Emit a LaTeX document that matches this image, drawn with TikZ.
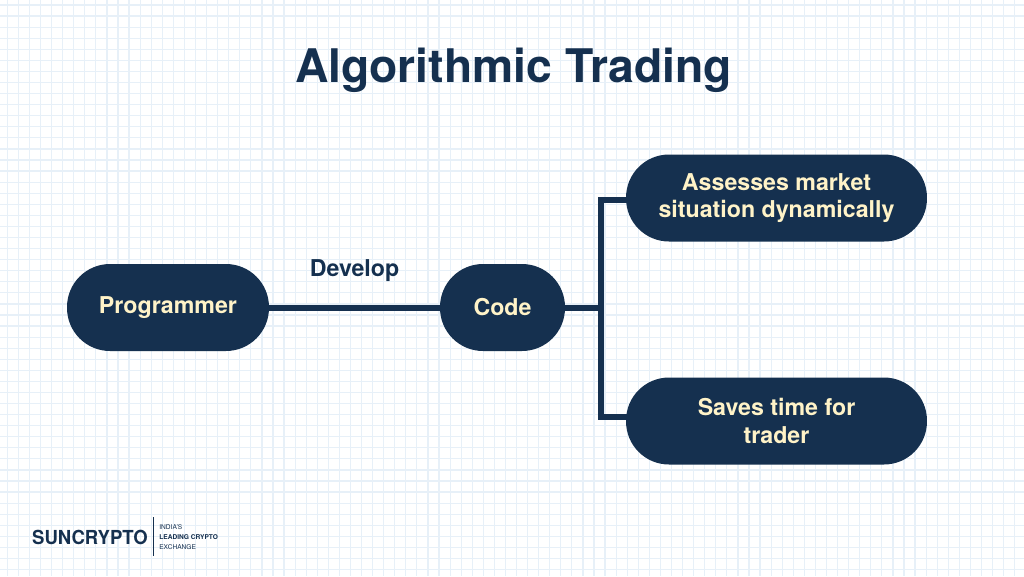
\documentclass[tikz,border=0pt]{standalone}
\usepackage{fontspec}
\setmainfont{TeX Gyre Heros}
\usepackage{xcolor}
\usetikzlibrary{positioning, calc}
\definecolor{tradenavy}{RGB}{21, 48, 79}
\definecolor{labelcream}{RGB}{255, 243, 200}
\definecolor{gridblue}{RGB}{231, 240, 248}
\tikzset{
    pill/.style={fill=tradenavy, rounded corners=0.86cm, minimum height=1.74cm, align=center, text=labelcream, font=\fontsize{13.2}{15.8}\selectfont\bfseries},
    link/.style={draw=tradenavy, line width=0.12cm},
    gridline/.style={draw=gridblue, line width=0.024cm}
}
\begin{document}
\begin{tikzpicture}[x=0.02cm, y=-0.02cm]
    \useasboundingbox (0,0) rectangle (1024,576);
    % Background grid
    \fill[white] (0,0) rectangle (1024,576);
    \foreach \gx in {0,...,92} {
        \draw[gridline] ({7.3+\gx*11.07},0) -- ({7.3+\gx*11.07},576);
    }
    \foreach \gy in {0,...,51} {
        \draw[gridline] (0,{5+\gy*11.07}) -- (1024,{5+\gy*11.07});
    }

    % Title
    \node[font=\fontsize{26.35}{32}\selectfont\bfseries, text=tradenavy] (title) at (513.5,70.5) {Algorithmic Trading};

    % Boxes
    \node[pill, minimum width=4.04cm] (programmer) at (168,307.5) {Programmer};
    \node[pill, minimum width=2.5cm] (code) at (502.5,307.5) {Code};
    \node[pill, minimum width=6.02cm] (assess) at (776.5,198) {Assesses market\\situation dynamically};
    \node[pill, minimum width=6.02cm] (saves) at (776.5,421) {Saves time for\\trader};
    \coordinate (branch) at (601,307.5);
    \coordinate (assessport) at (630,199.7);
    \coordinate (savesport) at (630,416.5);

    % Connectors
    \draw[link] (programmer) -- (code);
    \draw[link] (code) -- (branch);
    \draw[link] (assessport) -| (branch) |- (savesport);
    \node[font=\fontsize{13.2}{15}\selectfont\bfseries, text=tradenavy] (develop) at (354.5,271) {Develop};

    % Logo
    \node[font=\fontsize{11}{10}\selectfont\bfseries, text=tradenavy, xscale=0.96] (brand) at (90,537) {SUNCRYPTO};
    \coordinate (ruletop) at (153.5,517);
    \coordinate (rulebot) at (153.5,556);
    \draw[draw=tradenavy, line width=0.03cm] (ruletop) -- (rulebot);
    \node[font=\fontsize{3.75}{5.6}\selectfont, text=tradenavy, align=left, anchor=west, inner sep=0pt] (tagline) at (159,537) {INDIA'S\\\textbf{LEADING CRYPTO}\\EXCHANGE};
\end{tikzpicture}
\end{document}
